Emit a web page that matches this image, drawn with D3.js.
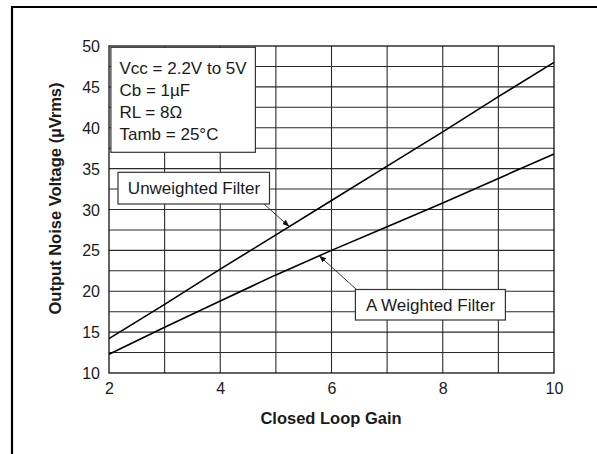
<!DOCTYPE html>
<html>
<head>
<meta charset="utf-8">
<script src="https://cdn.jsdelivr.net/npm/d3@7"></script>
<style>
  html, body { margin: 0; padding: 0; background: #fff; }
  svg { display: block; }
  text { font-family: "Liberation Sans", Arial, Helvetica, sans-serif; fill: #1a1a1a; }
</style>
</head>
<body>
<svg id="chart" width="597" height="454"></svg>
<script>
// ---- data ----
const gain = [2, 3, 4, 5, 6, 7, 8, 9, 10];
const unweighted = [14.2, 18.4, 22.7, 26.9, 31.1, 35.3, 39.5, 43.8, 48.0];
const aWeighted = [12.3, 15.6, 18.8, 22.0, 25.0, 27.9, 30.8, 33.8, 36.8];
const xTicks = [2, 4, 6, 8, 10];
const yTicks = [10, 15, 20, 25, 30, 35, 40, 45, 50];
const xGrid = [3, 4, 5, 6, 7, 8, 9];
const yGrid = [12.5, 15, 17.5, 20, 22.5, 25, 27.5, 30, 32.5, 35, 37.5, 40, 42.5, 45, 47.5];
const conditions = ["Vcc = 2.2V to 5V", "Cb = 1\u00B5F", "RL = 8\u03A9", "Tamb = 25\u00B0C"];
const xTitle = "Closed Loop Gain";
const yTitle = "Output Noise Voltage (\u00B5Vrms)";

// ---- layout ----
const svg = d3.select("#chart");
const L = 109, R = 554, T = 46, B = 373;
const x = d3.scaleLinear().domain([2, 10]).range([L, R]);
const y = d3.scaleLinear().domain([10, 50]).range([B, T]);

// outer frame (top & left edges)
svg.append("line").attr("x1", 11).attr("x2", 597).attr("y1", 7).attr("y2", 7)
  .attr("stroke", "#000").attr("stroke-width", 2.2);
svg.append("line").attr("x1", 12).attr("x2", 12).attr("y1", 6).attr("y2", 454)
  .attr("stroke", "#000").attr("stroke-width", 2.2);

// grid
const g = svg.append("g");
g.selectAll(".vg").data(xGrid).enter().append("line")
  .attr("x1", d => x(d)).attr("x2", d => x(d)).attr("y1", T).attr("y2", B)
  .attr("stroke", "#2a2a2a").attr("stroke-width", 1.1);
g.selectAll(".hg").data(yGrid).enter().append("line")
  .attr("x1", L).attr("x2", R).attr("y1", d => y(d)).attr("y2", d => y(d))
  .attr("stroke", "#2a2a2a").attr("stroke-width", 1.1);
g.append("rect").attr("x", L).attr("y", T).attr("width", R - L).attr("height", B - T)
  .attr("fill", "none").attr("stroke", "#111").attr("stroke-width", 1.3);

// axes (labels only)
const xAxis = d3.axisBottom(x).tickValues(xTicks).tickSize(0).tickPadding(0).tickFormat(d3.format("d"));
const xa = svg.append("g").attr("transform", `translate(0,${B})`).call(xAxis);
xa.select(".domain").remove();
xa.selectAll("text").attr("y", 15).attr("dy", "0.35em")
  .style("font-size", "16px").style("font-family", "Liberation Sans, Arial, sans-serif").attr("fill", "#1a1a1a");

const yAxis = d3.axisLeft(y).tickValues(yTicks).tickSize(0).tickPadding(9).tickFormat(d3.format("d"));
const ya = svg.append("g").attr("transform", `translate(${L},0)`).call(yAxis);
ya.select(".domain").remove();
ya.selectAll("text").attr("dy", "0.35em")
  .style("font-size", "16px").style("font-family", "Liberation Sans, Arial, sans-serif").attr("fill", "#1a1a1a");

// axis titles
svg.append("text").attr("x", 331).attr("y", 418).attr("dy", "0.35em")
  .attr("text-anchor", "middle").style("font-size", "16.5px").style("font-weight", "bold")
  .text(xTitle);
svg.append("text").attr("transform", "translate(55.5,198.5) rotate(-90)").attr("dy", "0.35em")
  .attr("text-anchor", "middle").style("font-size", "16.5px").style("font-weight", "bold")
  .text(yTitle);

// series lines
const line = d3.line().x(d => x(d[0])).y(d => y(d[1]));
const series = [unweighted, aWeighted];
svg.selectAll(".series").data(series).enter().append("path")
  .attr("d", s => line(gain.map((gv, i) => [gv, s[i]])))
  .attr("fill", "none").attr("stroke", "#000").attr("stroke-width", 1.6);

// conditions box
svg.append("rect").attr("x", 110.9).attr("y", 47.3).attr("width", 144.5).attr("height", 105)
  .attr("fill", "#fff").attr("stroke", "#333").attr("stroke-width", 1.2);
svg.selectAll(".cond").data(conditions).enter().append("text")
  .attr("x", 119.5).attr("y", (d, i) => 68.5 + i * 21.7).attr("dy", "0.35em")
  .style("font-size", "17px").text(d => d);

// annotation helpers
function interp(arr, gv) {
  const i = Math.min(gain.length - 2, Math.floor(gv - gain[0]));
  const t = gv - gain[i];
  return arr[i] + (arr[i + 1] - arr[i]) * t;
}
const defs = svg.append("defs");
defs.append("marker").attr("id", "ah").attr("viewBox", "0 0 10 10")
  .attr("refX", 10).attr("refY", 5).attr("markerWidth", 7).attr("markerHeight", 7)
  .attr("markerUnits", "userSpaceOnUse").attr("orient", "auto")
  .append("path").attr("d", "M0,1 L10,5 L0,9 Z").attr("fill", "#111");

// Unweighted label
const uG = 5.24;
svg.append("line").attr("x1", 264).attr("y1", 204)
  .attr("x2", x(uG)).attr("y2", y(interp(unweighted, uG)))
  .attr("stroke", "#222").attr("stroke-width", 0.9).attr("marker-end", "url(#ah)");
svg.append("rect").attr("x", 118).attr("y", 172.3).attr("width", 151.5).attr("height", 31.7)
  .attr("fill", "#fff").attr("stroke", "#333").attr("stroke-width", 1.2);
svg.append("text").attr("x", 194).attr("y", 188.3).attr("dy", "0.35em").attr("text-anchor", "middle")
  .style("font-size", "17px").text("Unweighted Filter");

// A Weighted label
const aG = 5.78;
svg.append("line").attr("x1", 356.5).attr("y1", 289.5)
  .attr("x2", x(aG)).attr("y2", y(interp(aWeighted, aG)))
  .attr("stroke", "#222").attr("stroke-width", 0.9).attr("marker-end", "url(#ah)");
svg.append("rect").attr("x", 355.4).attr("y", 289.5).attr("width", 150).attr("height", 30.5)
  .attr("fill", "#fff").attr("stroke", "#333").attr("stroke-width", 1.2);
svg.append("text").attr("x", 430.5).attr("y", 305).attr("dy", "0.35em").attr("text-anchor", "middle")
  .style("font-size", "17px").text("A Weighted Filter");
</script>
</body>
</html>
